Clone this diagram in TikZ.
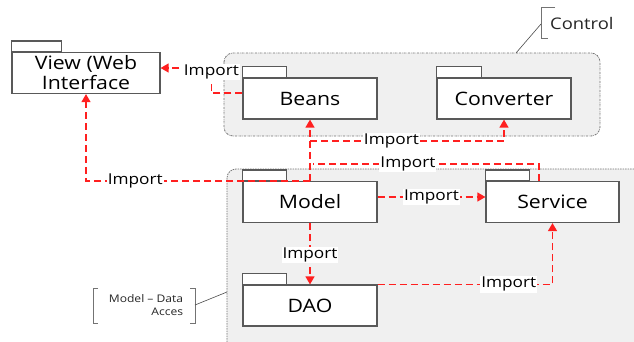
\documentclass[tikz,border=0pt]{standalone}
\usepackage{fontspec}
\setmainfont[FakeStretch=1.15]{Open Sans}
\usepackage{tikz}
\usetikzlibrary{arrows.meta}

\definecolor{grpfill}{HTML}{F0F0F0}
\definecolor{impred}{HTML}{FF2020}
\tikzset{
  pkg/.style={draw=black!65,line width=1.2pt,fill=white,minimum width=134pt,
    minimum height=41pt,align=center,inner sep=0pt,
    font=\fontsize{18.5}{20}\selectfont},
  grp/.style={draw=black!55,line width=0.8pt,fill=grpfill,rounded corners=9pt},
  imp/.style={draw=impred,line width=1.3pt,dash pattern=on 7pt off 4pt,
    -{Triangle[length=8pt,width=9pt]}},
  impline/.style={imp,-},
  lbl/.style={fill=white,text=black,inner sep=1pt,font=\fontsize{15}{17}\selectfont},
  note/.style={inner sep=1pt,text=black!85},
  notebrace/.style={draw=black!55,line width=0.8pt}
}

\begin{document}
\begin{tikzpicture}[x=1pt,y=-1pt]
          \useasboundingbox (0,0) rectangle (634,341);
          \fill[white] (0,0) rectangle (634,341);
          \draw[grp,dash pattern=on 2pt off 1pt on 0.5pt off 1pt] (224,53) rectangle (600,136);
          \draw[grp,dash pattern=on 1.5pt off 1pt] (227,169) rectangle (650,360);

          \node[pkg,minimum width=148pt] (view) at (86,73) {View (Web\\Interface};
          \node[pkg] (beans) at (310,98.5) {Beans};
          \node[pkg] (converter) at (504,98.5) {Converter};
          \node[pkg] (model) at (310,202) {Model};
          \node[pkg,minimum width=133pt] (service) at (552.5,202) {Service};
          \node[pkg] (dao) at (310,305.5) {DAO};
          \foreach \n/\w in {view/50,beans/44,converter/45,model/44,service/44,dao/44}
            \draw[draw=black!65,line width=1.2pt,fill=white] (\n.north west) rectangle ++(\w,-11);

          \coordinate (tapconv) at (310,141);
          \coordinate (tapserv) at (313,164);
          \draw[imp] ([yshift=5.5pt]beans.west) -- ++(-31,0) |- ([yshift=5pt]view.east)
            node[lbl,pos=0.42] {Import};
          \draw[imp] (model.north) -| (view.south) node[lbl,pos=0.39] {Import};
          \draw[imp] (model.north) -- (beans.south);
          \draw[imp] (tapconv) -| (converter.south) node[lbl,pos=0.21] {Import};
          \draw[impline] ([xshift=-13.5pt]service.north) |- (tapserv) node[lbl,pos=0.79] {Import};
          \draw[imp] ([yshift=5pt]model.east) -- ([yshift=5pt]service.west) node[lbl,midway] {Import};
          \draw[imp] (model.south) -- (dao.north) node[lbl,pos=0.52] {Import};
          \draw[imp] (dao.north east) -| (service.south) node[lbl,pos=0.375] {Import};

          \node[note,anchor=west,font=\fontsize{16}{18}\selectfont] (ctrlnote) at (549,23) {Control};
          \draw[notebrace] ([xshift=6pt]ctrlnote.west |- 0,7) -- (541,7) -- (541,38) -- ++(7,0);
          \draw[black!70,line width=0.6pt] (541,24) -- (516,53);

          \node[note,align=right,font=\fontsize{10.5}{13}\selectfont] (daonote) at (146,305.5) {Model -- Data\\Acces};
          \draw[notebrace] (98,288) -- (93,288) -- (93,323) -- (98,323);
          \draw[notebrace] (190,288) -- (195,288) -- (195,323) -- (190,323);
          \draw[black!70,line width=0.6pt] (195,305) -- (227,292);
        \end{tikzpicture}
\end{document}
